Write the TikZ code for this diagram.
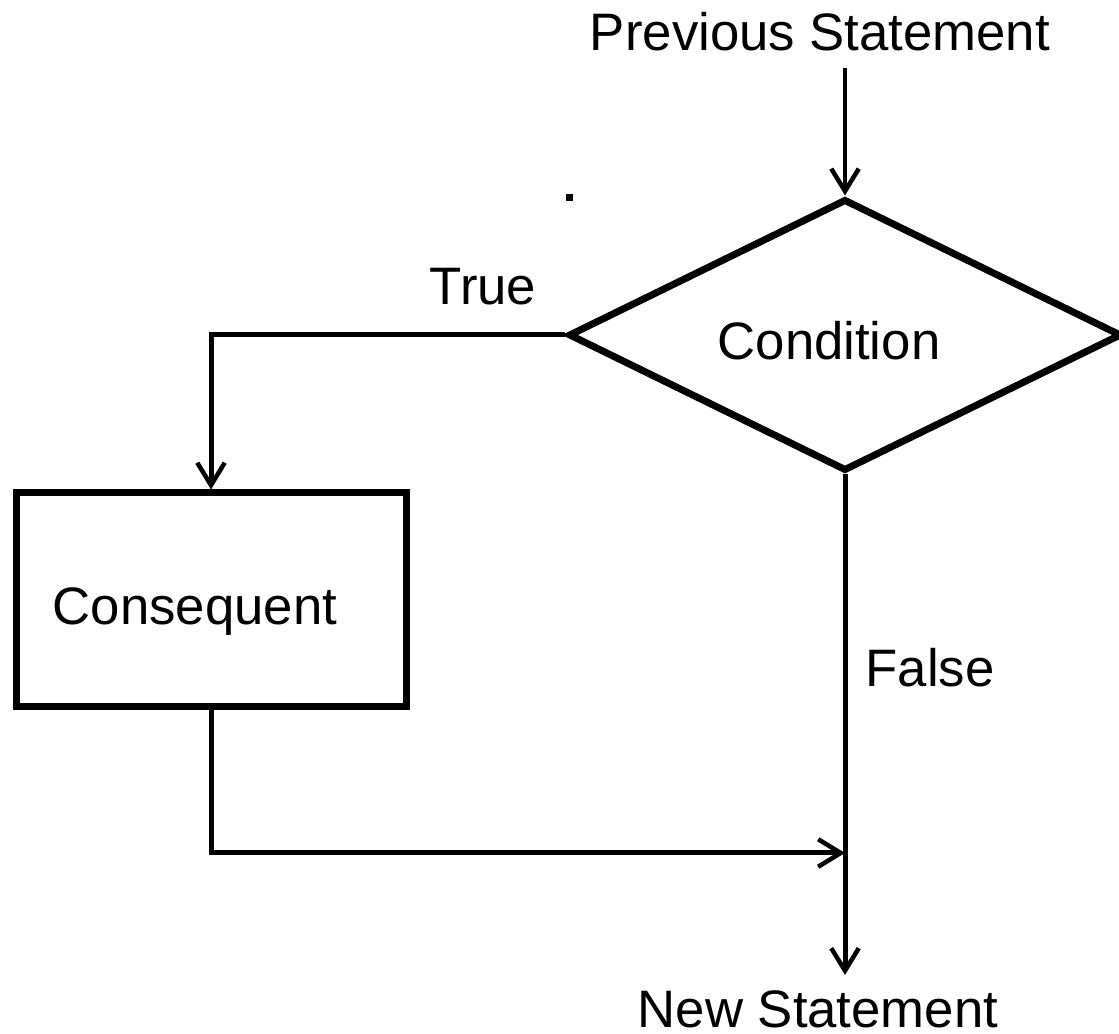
\documentclass[tikz,border=0pt]{standalone}
\usepackage{fontspec}
\setmainfont{Liberation Sans}
\usetikzlibrary{shapes.geometric,arrows.meta}

\begin{document}
\begin{tikzpicture}[
		txt/.style={font=\fontsize{30pt}{36pt}\selectfont, inner sep=0pt},
		decision/.style={diamond, draw, line width=0.14cm, minimum width=11.06cm, minimum height=5.44cm, inner sep=0pt, txt, text height=1cm, text depth=0cm},
		block/.style={rectangle, draw, line width=0.14cm, minimum width=7.8cm, minimum height=4.28cm, inner sep=0pt, txt, text height=1cm, text depth=0cm},
		flow/.style={line width=0.1cm, -{Straight Barb[length=0.45cm, width=0.55cm, line width=0.09cm]}}
	]
		\useasboundingbox (0,0) rectangle (22.38,20.68);

		\node[txt]      (prev) at (16.4,20.04)  {Previous Statement};
		\node[decision] (cond) at (16.9,13.98)  {\hspace*{-0.64cm}Condition};
		\node[block]    (cons) at (4.22,8.68)   {\hspace*{-0.64cm}Consequent};
		\node[txt]      (true) at (9.66,14.94)  {True};
		\node[txt]      (false) at (18.6,7.32)  {False};
		\node[txt]      (new)  at (16.36,0.5)   {New Statement};
		\node[fill, inner sep=0pt, minimum size=0.14cm] (dot) at (11.38,16.72) {};

		\coordinate (top)   at (16.9,19.32);
		\coordinate (newin) at (16.9,1.18);
		\coordinate (merge) at (16.9,3.62);

		\draw[flow, line width=0.08cm] (top) to (cond.north);
		\draw[flow] (cond.west) -| (cons.north);
		\draw[flow] (cond.south) to (newin);
		\draw[flow] (cons.south) |- (merge);
	\end{tikzpicture}
\end{document}
